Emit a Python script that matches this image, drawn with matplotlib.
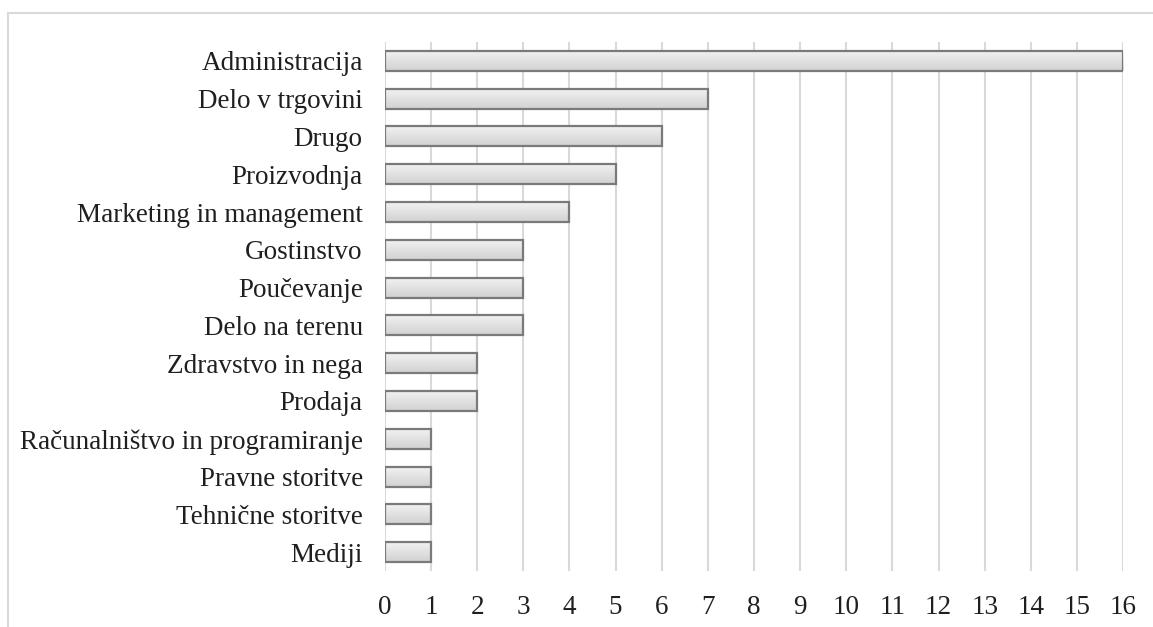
import numpy as np
import matplotlib.pyplot as plt
from matplotlib.patches import Rectangle

plt.rcParams['font.family'] = ['Liberation Serif', 'DejaVu Serif']

categories = [
    "Administracija", "Delo v trgovini", "Drugo", "Proizvodnja",
    "Marketing in management", "Gostinstvo", "Poučevanje", "Delo na terenu",
    "Zdravstvo in nega", "Prodaja", "Računalništvo in programiranje",
    "Pravne storitve", "Tehnične storitve", "Mediji",
]
counts = [16, 7, 6, 5, 4, 3, 3, 3, 2, 2, 1, 1, 1, 1]
xticks = list(range(0, 17))

fig = plt.figure(figsize=(11.53, 6.27), dpi=100)
# light frame around the chart area
fig.add_artist(Rectangle((8 / 1153, -0.1), 1.2, 1 - 13 / 627 + 0.1,
                         transform=fig.transFigure, fill=False,
                         edgecolor="#d9d9d9", linewidth=1.5))

ax = fig.add_axes([0.3339, 0.0893, 0.6401, 0.8437])
y = np.arange(len(categories))
bars = ax.barh(y, counts, height=0.53, facecolor="none",
               edgecolor="#7a7a7a", linewidth=1.6, zorder=3)

# vertical gradient fill inside each bar
grad = np.linspace(0.95, 0.82, 64).reshape(-1, 1)
for b in bars:
    x0, y0 = b.get_x(), b.get_y()
    w, h = b.get_width(), b.get_height()
    im = ax.imshow(np.repeat(grad, 2, axis=1), cmap="gray", vmin=0, vmax=1,
                   extent=(x0, x0 + w, y0 + h, y0), aspect="auto",
                   interpolation="bilinear", zorder=2)
    im.set_clip_path(b)

ax.set_xlim(0, 16)
ax.set_ylim(len(categories) - 0.5, -0.5)
ax.set_yticks(y)
ax.set_yticklabels(categories)
ax.set_xticks(xticks)
ax.tick_params(axis="both", length=0, labelsize=19.5, colors="#1f1f1f")
ax.tick_params(axis="y", pad=16)
ax.tick_params(axis="x", pad=17)
ax.grid(axis="x", color="#d9d9d9", linewidth=1.5, zorder=0)
ax.set_axisbelow(True)
for s in ax.spines.values():
    s.set_visible(False)

fig.savefig("out.png", dpi=100)
